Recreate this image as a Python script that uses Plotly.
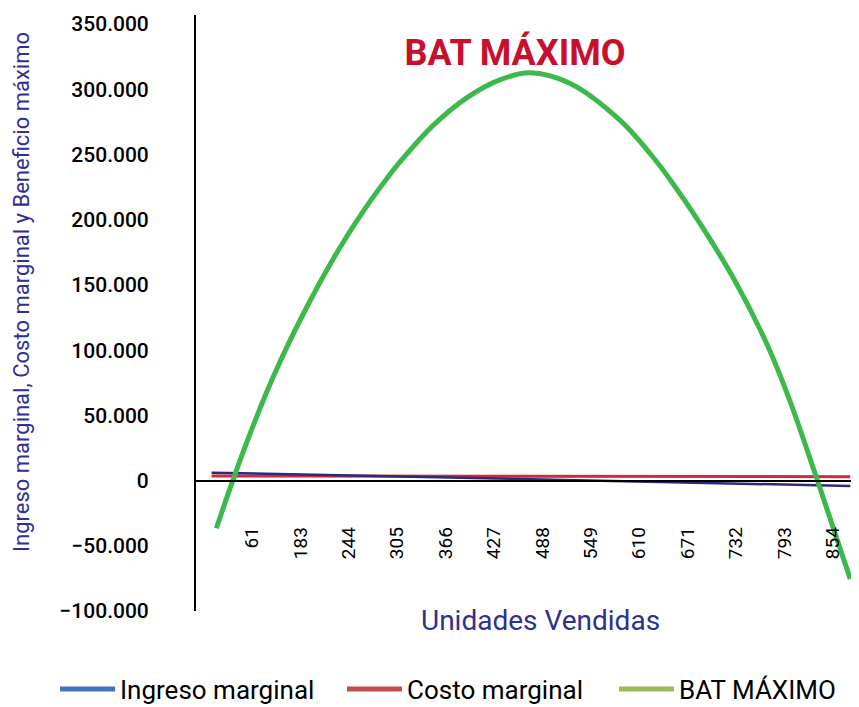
import plotly.graph_objects as go

# values (unidades vendidas -> pesos)
units_bat = [16, 40, 65, 86, 107, 128, 149, 170, 191, 212, 231, 248, 289, 332, 374, 411,
             462, 525, 566, 588, 626, 668, 710, 739, 773, 794, 815]
bat = [-36600, 5600, 46100, 77100, 105000, 130600, 154600, 176800, 197200, 216000, 231700,
       244700, 272200, 293700, 307500, 312700, 304500, 276200, 248300, 230700, 196900,
       154900, 104500, 61000, 1200, -37100, -75500]

units_marg = [10, 122, 244, 366, 488, 610, 732, 815]
ingreso_marginal = [6100, 4700, 3100, 1600, 100, -1400, -3000, -4100]
costo_marginal = [3500, 3400, 3400, 3300, 3300, 3200, 3100, 3000]

x_labels = ["61", "183", "244", "305", "366", "427", "488", "549", "610", "671", "732", "793", "854"]
x_pos = [61 * (i + 1) for i in range(len(x_labels))]

NAVY = "#2E3192"
FONT = "Roboto"

# the page adds an 8px body margin; plot area in page pixels: x 196..859, y 15..611
def px(x):
    return (x - 196) / 663

def py(y):
    return (611 - y) / 596

fig = go.Figure()
fig.add_trace(go.Scatter(x=units_marg, y=costo_marginal, mode="lines", showlegend=False,
                         line=dict(color="#D7263D", width=3)))
fig.add_trace(go.Scatter(x=units_marg, y=ingreso_marginal, mode="lines", showlegend=False,
                         line=dict(color="#2B2A78", width=2.5)))
fig.add_trace(go.Scatter(x=units_bat, y=bat, mode="lines", showlegend=False,
                         line=dict(color="#3DB84A", width=5, shape="spline", smoothing=1)))

# legend entries (legend colours differ from the drawn lines in the original),
# one legend box per entry so each can sit where the original has it
entries = [("Ingreso marginal", "#4472C4", "legend", 55),
           ("Costo marginal", "#C0504D", "legend2", 342),
           ("BAT MÁXIMO", "#9BBB59", "legend3", 614)]
legends = {}
for name, col, lg, left in entries:
    fig.add_trace(go.Scatter(x=[None], y=[None], mode="lines", name=name, legend=lg,
                             line=dict(color=col, width=5)))
    legends[lg] = dict(orientation="h", x=px(left), xanchor="left", y=py(689), yanchor="middle",
                       itemwidth=55, font=dict(size=26, color="black"), bgcolor="rgba(0,0,0,0)")

ymin, ymax = -100000, 357000
fig.update_layout(
    width=851, height=699,
    margin=dict(l=188, r=0, t=7, b=96, autoexpand=False),
    plot_bgcolor="white", paper_bgcolor="white",
    separators=",.",
    font=dict(family=FONT, color="black"),
    title=dict(text="BAT MÁXIMO", x=(515 - 8) / 851, xanchor="center", y=1 - (52 - 8) / 699,
               yanchor="middle", font=dict(family=FONT, size=36, color="#C8102E", weight="bold")),
    xaxis=dict(range=[-9.6, 826], tickvals=x_pos, ticktext=x_labels, tickangle=-90,
               anchor="free", position=(0 - ymin) / (ymax - ymin),
               showline=True, linecolor="black", linewidth=2, showgrid=False, zeroline=False,
               ticks="", ticklabelstandoff=38, tickfont=dict(size=19, color="black")),
    yaxis=dict(range=[ymin, ymax], tick0=0, dtick=50000, tickformat=",",
               showline=True, linecolor="black", linewidth=2, showgrid=False, zeroline=False,
               ticks="", ticklabelstandoff=41, tickfont=dict(size=21, color="black", weight=500)),
    annotations=[
        dict(text="Ingreso marginal, Costo marginal y Beneficio máximo", textangle=-90,
             xref="paper", yref="paper", x=px(21), y=py(292),
             xanchor="center", yanchor="middle", showarrow=False,
             font=dict(size=22, color=NAVY)),
        dict(text="Unidades Vendidas", xref="paper", yref="paper",
             x=px(540), y=py(620), xanchor="center", yanchor="middle",
             showarrow=False, font=dict(size=28, color=NAVY)),
    ],
    **legends,
)

fig.write_html("out.html")
